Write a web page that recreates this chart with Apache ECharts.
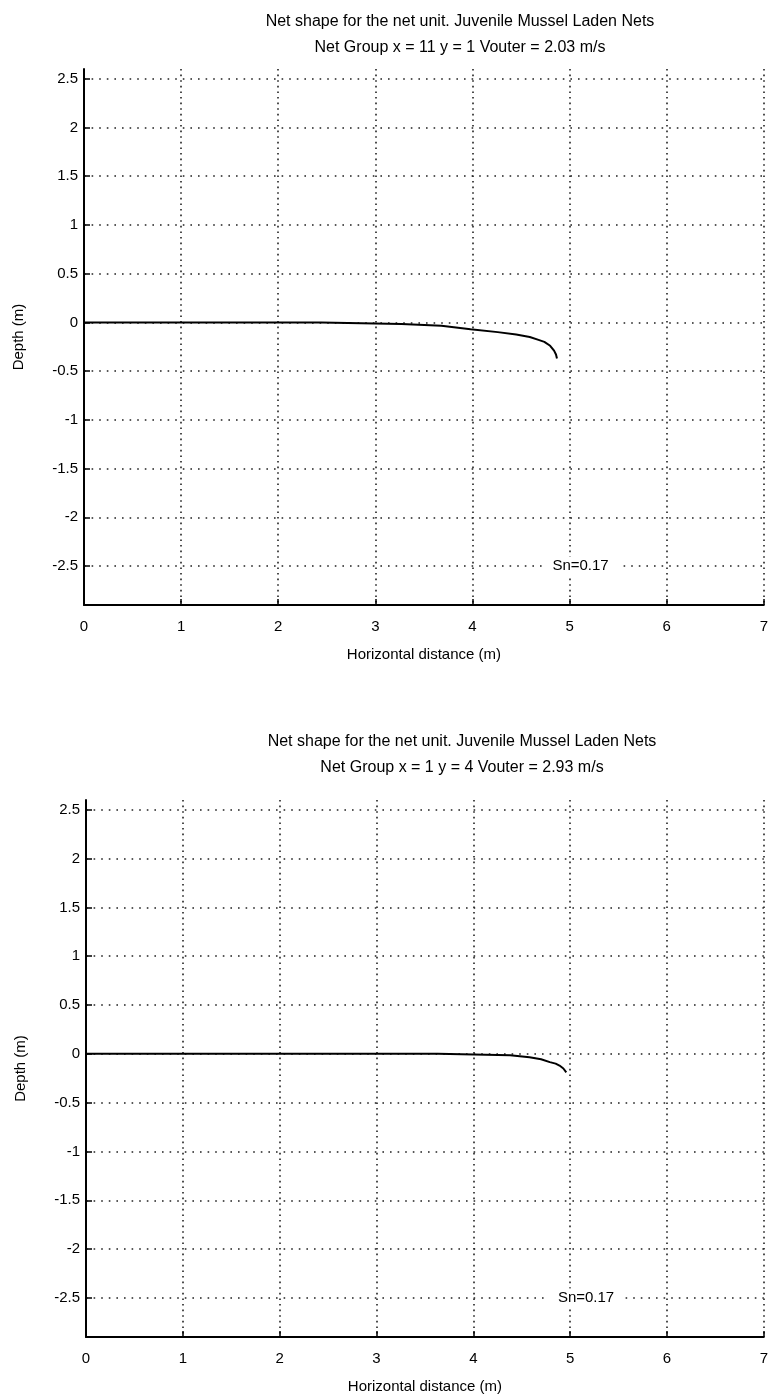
<!DOCTYPE html>
<html>
<head>
<meta charset="utf-8">
<script src="https://cdn.jsdelivr.net/npm/echarts@6/dist/echarts.min.js"></script>
<style>
html,body{margin:0;padding:0;background:#fff;}
#c{width:771px;height:1400px;}
</style>
</head>
<body>
<div id="c"></div>
<script>
// ---- data ----
const titleTop1 = 'Net shape for the net unit. Juvenile Mussel Laden Nets';
const titleTop2 = 'Net Group x = 11 y = 1 Vouter = 2.03 m/s';
const titleBot1 = 'Net shape for the net unit. Juvenile Mussel Laden Nets';
const titleBot2 = 'Net Group x = 1 y = 4 Vouter = 2.93 m/s';
const xTicks = [0, 1, 2, 3, 4, 5, 6, 7];
const yTicks = [-2.5, -2, -1.5, -1, -0.5, 0, 0.5, 1, 1.5, 2, 2.5];
const netTopX = [0, 1, 2, 2.44, 2.45, 3.27, 3.28, 3.68, 3.69, 3.98, 4.26, 4.45, 4.59, 4.68, 4.74, 4.80, 4.84, 4.86, 4.87];
const netTopY = [0, 0, 0, 0, -0.017, -0.017, -0.035, -0.035, -0.05, -0.07, -0.10, -0.125, -0.15, -0.18, -0.20, -0.24, -0.29, -0.33, -0.37];
const netBotX = [0, 1, 2, 3, 3.63, 3.64, 4.38, 4.39, 4.58, 4.70, 4.79, 4.85, 4.89, 4.93, 4.96];
const netBotY = [0, 0, 0, 0, 0, -0.014, -0.014, -0.02, -0.034, -0.055, -0.085, -0.10, -0.12, -0.15, -0.19];
const snText = 'Sn=0.17';
const snTop = [4.72, -2.5];
const snBot = [4.77, -2.5];

const FONT = 'Liberation Sans';
const toPairs = (xs, ys) => xs.map((x, i) => [x, ys[i]]);

function xAxisCfg(gridIndex) {
  return {
    gridIndex, type: 'value', min: 0, max: 7, interval: 1,
    name: 'Horizontal distance (m)', nameLocation: 'middle', nameGap: 42,
    nameTextStyle: {fontFamily: FONT, fontSize: 15, color: '#000'},
    axisLine: {show: true, onZero: false, lineStyle: {color: '#000', width: 2}},
    axisTick: {show: true, inside: true, length: 6, lineStyle: {color: '#000', width: 1.5}},
    axisLabel: {fontFamily: FONT, fontSize: 15, color: '#000', margin: 14},
    splitLine: {show: true, lineStyle: {color: '#222', width: 1.6, type: [1.6, 4]}}
  };
}
function yAxisCfg(gridIndex) {
  return {
    gridIndex, type: 'value', min: -2.9, max: 2.6,
    name: 'Depth (m)', nameLocation: 'middle', nameGap: 58,
    nameTextStyle: {fontFamily: FONT, fontSize: 15, color: '#000'},
    axisLine: {show: true, onZero: false, lineStyle: {color: '#000', width: 2}},
    axisTick: {show: true, inside: true, length: 6, customValues: yTicks, lineStyle: {color: '#000', width: 1.5}},
    axisLabel: {fontFamily: FONT, fontSize: 15, color: '#000', margin: 6, customValues: yTicks},
    splitLine: {show: true, lineStyle: {color: '#222', width: 1.6, type: [1.6, 6]}}
  };
}
function snSeries(idx, pos) {
  return {
    type: 'scatter', xAxisIndex: idx, yAxisIndex: idx, symbolSize: 0,
    data: [pos], silent: true, z: 5,
    itemStyle: {opacity: 1},
    label: {show: true, formatter: snText, position: 'right', distance: 0,
      fontFamily: FONT, fontSize: 15, color: '#000', opacity: 1,
      backgroundColor: '#fff', padding: [2, 10, 2, 10]}
  };
}

const chart = echarts.init(document.getElementById('c'), null, {renderer: 'canvas'});
chart.setOption({
  backgroundColor: '#fff',
  animation: false,
  title: [
    {text: titleTop1 + '\n' + titleTop2, left: 455, top: 4, textAlign: 'center',
     textStyle: {fontFamily: FONT, fontSize: 16, fontWeight: 'normal', color: '#000', lineHeight: 26}},
    {text: titleBot1 + '\n' + titleBot2, left: 457, top: 724, textAlign: 'center',
     textStyle: {fontFamily: FONT, fontSize: 16, fontWeight: 'normal', color: '#000', lineHeight: 26}}
  ],
  grid: [
    {left: 84, right: 3, top: 69, height: 536},
    {left: 86, right: 1, top: 800, height: 537}
  ],
  xAxis: [xAxisCfg(0), xAxisCfg(1)],
  yAxis: [yAxisCfg(0), yAxisCfg(1)],
  series: [
    {type: 'line', xAxisIndex: 0, yAxisIndex: 0, data: toPairs(netTopX, netTopY),
     showSymbol: false, lineStyle: {color: '#000', width: 2}, z: 3},
    {type: 'line', xAxisIndex: 1, yAxisIndex: 1, data: toPairs(netBotX, netBotY),
     showSymbol: false, lineStyle: {color: '#000', width: 2}, z: 3},
    snSeries(0, snTop),
    snSeries(1, snBot)
  ]
});
</script>
</body>
</html>
